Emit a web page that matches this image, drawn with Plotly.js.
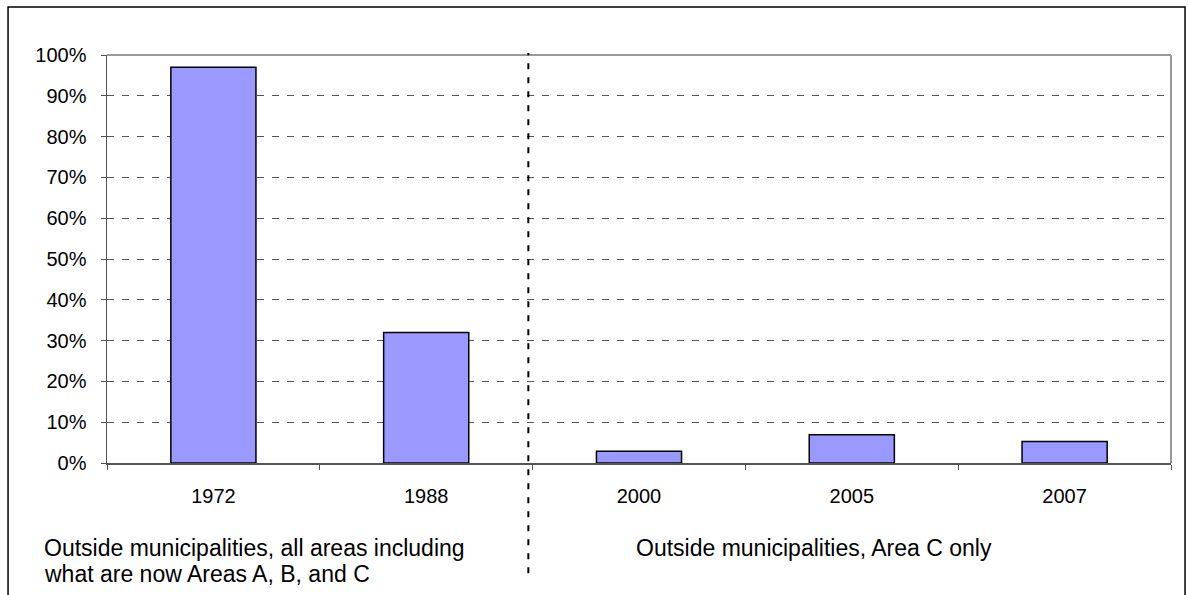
<!DOCTYPE html>
<html>
<head>
<meta charset="utf-8">
<script src="https://cdn.plot.ly/plotly-3.0.1.min.js"></script>
<style>html,body{margin:0;padding:0;background:#fff;}#chart{width:1188px;height:595px;}</style>
</head>
<body>
<div id="chart"></div>
<script>
const years = ["1972", "1988", "2000", "2005", "2007"];
const shares = [0.97, 0.32, 0.029, 0.069, 0.053];
const yTicks = [0, 0.1, 0.2, 0.3, 0.4, 0.5, 0.6, 0.7, 0.8, 0.9, 1.0];
const leftGroupLines = [
  "Outside municipalities, all areas including",
  "what are now Areas A, B, and C"
];
const rightGroupLines = [
  "Outside municipalities, Area C only"
];

const FONT = "Arial, 'Liberation Sans', sans-serif";

const trace = {
  type: "bar",
  x: years,
  y: shares,
  width: 0.4,
  marker: {color: "#9999FF", line: {color: "#000000", width: 1.5}},
  hoverinfo: "x+y"
};

const LINE_STEP = 0.0640; // ~26px line spacing in paper units
const annFont = {family: FONT, size: 23, color: "#000"};
const annotations = [];
leftGroupLines.forEach((t, i) => annotations.push({
  xref: "paper", yref: "paper", x: -0.0611, y: -0.2083 - i * LINE_STEP,
  xanchor: "left", yanchor: "middle", align: "left",
  showarrow: false, text: t, font: annFont
}));
rightGroupLines.forEach((t, i) => annotations.push({
  xref: "paper", yref: "paper", x: 0.4953, y: -0.2083 - i * LINE_STEP,
  xanchor: "left", yanchor: "middle", align: "left",
  showarrow: false, text: t, font: annFont
}));

const layout = {
  width: 1188,
  height: 595,
  margin: {l: 107, r: 17, t: 55, b: 132},
  paper_bgcolor: "#ffffff",
  plot_bgcolor: "#ffffff",
  showlegend: false,
  font: {family: FONT, size: 20, color: "#000"},
  xaxis: {
    type: "category",
    tickson: "boundaries",
    ticks: "outside",
    ticklen: 5,
    tickcolor: "#555",
    showline: true,
    linecolor: "#555",
    linewidth: 1.5,
    showgrid: false,
    ticklabelstandoff: 14,
    tickfont: {family: FONT, size: 20, color: "#000"},
    fixedrange: true
  },
  yaxis: {
    range: [0, 1],
    tickvals: yTicks,
    tickformat: ".0%",
    ticks: "outside",
    ticklen: 5,
    tickcolor: "#555",
    showline: true,
    linecolor: "#555",
    linewidth: 1.5,
    showgrid: true,
    gridcolor: "#555",
    gridwidth: 1,
    griddash: "7px,8px",
    zeroline: false,
    ticklabelstandoff: 10,
    tickfont: {family: FONT, size: 20, color: "#000"},
    fixedrange: true
  },
  shapes: [
    {type: "line", xref: "paper", yref: "paper", x0: 0, x1: 1, y0: 1, y1: 1, line: {color: "#999", width: 2}},
    {type: "line", xref: "paper", yref: "paper", x0: 1, x1: 1, y0: 0, y1: 1, line: {color: "#999", width: 2}},
    {type: "line", xref: "x", yref: "paper", x0: 1.48, x1: 1.48, y0: -0.27, y1: 1.005, line: {color: "#000", width: 2, dash: "6px,8px"}},
    {type: "rect", xref: "paper", yref: "paper", x0: -0.093, x1: 1.0132, y0: -0.4, y1: 1.1176, line: {color: "#000", width: 1.5}, fillcolor: "rgba(0,0,0,0)"}
  ],
  annotations: annotations
};

Plotly.newPlot("chart", [trace], layout, {displayModeBar: false, staticPlot: true});
</script>
</body>
</html>
